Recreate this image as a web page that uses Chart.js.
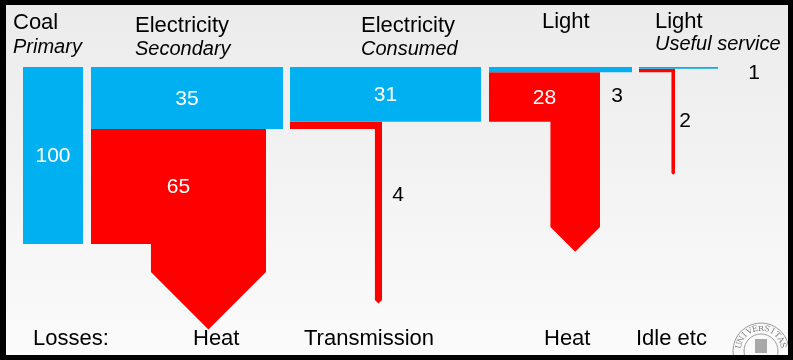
<!DOCTYPE html>
<html>
<head>
<meta charset="utf-8">
<script src="https://cdn.jsdelivr.net/npm/chart.js@4"></script>
<style>
  html, body { margin: 0; padding: 0; background: #fff; }
  #wrap { width: 793px; height: 360px; }
</style>
</head>
<body>
<div id="wrap"><canvas id="flow" width="793" height="360"></canvas></div>
<script>
// energy chain, coal in -> light out
const stageNames = ['Coal', 'Electricity', 'Electricity', 'Light', 'Light'];
const stageKinds = ['Primary', 'Secondary', 'Consumed', '', 'Useful service'];
const stageValues = [100, 35, 31, 3, 1];
const lossValues = [65, 4, 28, 2];
const lossNames = ['Heat', 'Transmission', 'Heat', 'Idle etc'];
const lossTitle = 'Losses:';

// layout, canvas pixels
const TOP = 67;
const UNIT = 1.77; // px per unit of energy
const colLeft = [23, 91, 290, 489, 639];
const colRight = [83, 283, 481, 632, 718];
const lossRight = [266, 382, 600, 675];
const lossTail = [272, 300, 227, 173];
const headX = [13, 135, 361, 542, 655];
const headY = [29, 32, 32, 28, 28];
const subY = [53, 55, 55, 0, 50];
const stageLabelAt = [null, null, null, [617, 96], [754, 73]];
const lossLabelAt = [null, [398, 195], null, [685, 121]];
const footX = [33, 193, 304, 544, 636];
const FOOT_Y = 345;

const BLUE = '#00b0f0';
const RED = '#ff0000';
const FONT = '"Liberation Sans", Arial, sans-serif';

function rect(x0, y0, x1, y1) {
    return [{x: x0, y: y0}, {x: x1, y: y0}, {x: x1, y: y1}, {x: x0, y: y1}, {x: x0, y: y0}];
}

function lossShape(k) {
    const j = k + 1;
    const w = lossValues[k] * UNIT;
    const yA = TOP + stageValues[j] * UNIT;
    const yB = yA + w;
    const xR = lossRight[k];
    const xT = xR - w;
    const tail = lossTail[k];
    return [
        {x: colLeft[j], y: yA}, {x: xR, y: yA}, {x: xR, y: tail},
        {x: xR - w / 2, y: tail + w / 2}, {x: xT, y: tail},
        {x: xT, y: yB}, {x: colLeft[j], y: yB}, {x: colLeft[j], y: yA}
    ];
}

function shapeSet(points, color) {
    return {
        data: points,
        showLine: true,
        fill: 'shape',
        backgroundColor: color,
        borderColor: color,
        borderWidth: 0,
        pointRadius: 0,
        tension: 0
    };
}

const datasets = [];
stageValues.forEach((v, i) => {
    datasets.push(shapeSet(rect(colLeft[i], TOP, colRight[i], TOP + v * UNIT), BLUE));
});
lossValues.forEach((v, k) => datasets.push(shapeSet(lossShape(k), RED)));

const backdrop = {
    id: 'backdrop',
    beforeDraw(chart) {
        const {ctx, width, height} = chart;
        const g = ctx.createLinearGradient(0, 0, 0, height);
        g.addColorStop(0, '#ebebeb');
        g.addColorStop(1, '#fbfbfb');
        ctx.save();
        ctx.fillStyle = g;
        ctx.fillRect(0, 0, width, height);
        ctx.restore();
    }
};

function seal(ctx) {
    const cx = 761, cy = 351;
    ctx.save();
    ctx.strokeStyle = '#9a9a9a';
    ctx.lineWidth = 1;
    ctx.beginPath(); ctx.arc(cx, cy, 28, 0, Math.PI * 2); ctx.stroke();
    ctx.beginPath(); ctx.arc(cx, cy, 17, 0, Math.PI * 2); ctx.stroke();
    ctx.fillStyle = '#808080';
    ctx.font = '8px "DejaVu Serif", serif';
    ctx.textAlign = 'center';
    ctx.textBaseline = 'middle';
    const word = 'UNIVERSITAS';
    const a0 = -Math.PI * 0.92, a1 = -Math.PI * 0.08;
    for (let i = 0; i < word.length; i++) {
        const a = a0 + (a1 - a0) * i / (word.length - 1);
        ctx.save();
        ctx.translate(cx + Math.cos(a) * 22.5, cy + Math.sin(a) * 22.5);
        ctx.rotate(a + Math.PI / 2);
        ctx.fillText(word[i], 0, 0);
        ctx.restore();
    }
    ctx.fillStyle = '#a8a8a8';
    ctx.fillRect(cx - 6, cy - 12, 12, 14);
    ctx.restore();
}

const labels = {
    id: 'labels',
    afterDatasetsDraw(chart) {
        const {ctx} = chart;
        const sx = chart.scales.x, sy = chart.scales.y;
        const px = v => sx.getPixelForValue(v);
        const py = v => sy.getPixelForValue(v);
        ctx.save();
        ctx.textBaseline = 'alphabetic';
        ctx.textAlign = 'left';
        ctx.fillStyle = '#000';
        stageNames.forEach((n, i) => {
            ctx.font = '22px ' + FONT;
            ctx.fillText(n, px(headX[i]), py(headY[i]));
            if (stageKinds[i]) {
                ctx.font = 'italic 20px ' + FONT;
                ctx.fillText(stageKinds[i], px(headX[i]), py(subY[i]));
            }
        });
        ctx.font = '22px ' + FONT;
        [lossTitle].concat(lossNames).forEach((n, i) => ctx.fillText(n, px(footX[i]), py(FOOT_Y)));

        ctx.textAlign = 'center';
        ctx.textBaseline = 'middle';
        ctx.font = '21px ' + FONT;
        stageValues.forEach((v, i) => {
            if (stageLabelAt[i]) {
                ctx.fillStyle = '#000';
                ctx.fillText(String(v), px(stageLabelAt[i][0]), py(stageLabelAt[i][1]));
            } else {
                ctx.fillStyle = '#fff';
                ctx.fillText(String(v), px((colLeft[i] + colRight[i]) / 2), py(TOP + v * UNIT / 2 + 1));
            }
        });
        lossValues.forEach((v, k) => {
            if (lossLabelAt[k]) {
                ctx.fillStyle = '#000';
                ctx.fillText(String(v), px(lossLabelAt[k][0]), py(lossLabelAt[k][1]));
            } else {
                const j = k + 1;
                const yA = TOP + stageValues[j] * UNIT;
                ctx.fillStyle = '#fff';
                ctx.fillText(String(v), px((colLeft[j] + lossRight[k]) / 2), py(yA + v * UNIT / 2 + 1));
            }
        });
        ctx.restore();
    },
    afterDraw(chart) {
        const {ctx, width, height} = chart;
        seal(ctx);
        ctx.save();
        ctx.fillStyle = '#000';
        ctx.fillRect(0, 0, width, 5);
        ctx.fillRect(0, 0, 6, height);
        ctx.fillRect(width - 5, 0, 5, height);
        ctx.fillRect(0, height - 5, width, 5);
        ctx.restore();
    }
};

new Chart(document.getElementById('flow'), {
    type: 'scatter',
    data: {datasets},
    options: {
        responsive: false,
        animation: false,
        devicePixelRatio: 1,
        layout: {padding: 0},
        scales: {
            x: {type: 'linear', min: 0, max: 793, display: false},
            y: {type: 'linear', min: 0, max: 360, reverse: true, display: false}
        },
        plugins: {legend: {display: false}, tooltip: {enabled: false}}
    },
    plugins: [backdrop, labels]
});
</script>
</body>
</html>
